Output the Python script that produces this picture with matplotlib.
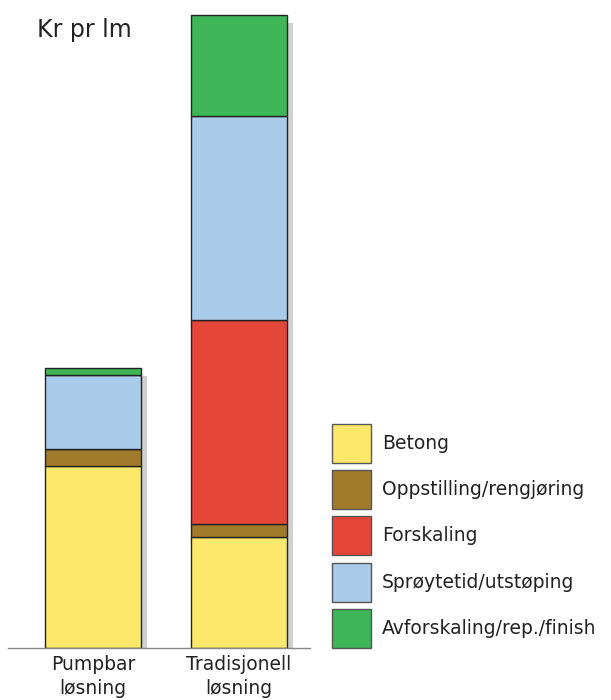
import matplotlib
matplotlib.use("Agg")
import matplotlib.pyplot as plt
from matplotlib.patches import Rectangle
import numpy as np

plt.rcParams['font.family'] = ['DejaVu Sans']

categories = ["Pumpbar\nløsning", "Tradisjonell\nløsning"]
series = ["Betong", "Oppstilling/rengjøring", "Forskaling",
          "Sprøytetid/utstøping", "Avforskaling/rep./finish"]
betong = [182, 111]
oppstilling = [17, 13]
forskaling = [0, 204]
sproyte = [74, 204]
avforskaling = [7, 101]
values = [betong, oppstilling, forskaling, sproyte, avforskaling]
colors = ["#FCE86A", "#A27A2C", "#E5463A", "#AACBEA", "#3EB556"]
title = "Kr pr lm"

W, H = 611, 700
fig = plt.figure(figsize=(W/100, H/100), dpi=100)
ax = fig.add_axes([8/W, (H-648)/H, (310-8)/W, 648/H])

x = np.arange(len(categories))
bw = 96/146
totals = np.sum(values, axis=0)
# shadow
ax.bar(x + 6/146, totals - 8, bottom=0, width=bw, color="#d0d0d0", zorder=1, linewidth=0)
bottom = np.zeros(len(categories))
for vals, col, name in zip(values, colors, series):
    v = np.array(vals, dtype=float)
    ax.bar(x, v, bottom=bottom, width=bw, color=col, edgecolor="#222222",
           linewidth=1.0, zorder=2, label=name)
    bottom += v

ax.set_xlim(-85/146, -85/146 + 302/146)
ax.set_ylim(0, 648)
for s in ["top", "right", "left"]:
    ax.spines[s].set_visible(False)
ax.spines["bottom"].set_color("#888888")
ax.spines["bottom"].set_linewidth(1.0)
ax.set_yticks([])
ax.set_xticks(x)
ax.set_xticklabels(categories, fontsize=13.5, color="#222222", linespacing=1.35)
ax.tick_params(axis="x", length=0, pad=5)

fig.text(37/W, 1 - 30/H, title, fontsize=17, color="#222222", va="center", ha="left")

# legend (manual, in figure pixel coordinates)
lax = fig.add_axes([0, 0, 1, 1], facecolor="none")
lax.set_xlim(0, W)
lax.set_ylim(H, 0)
lax.axis("off")
for i, (c, name) in enumerate(zip(colors, series)):
    top = 424 + i * 46.2
    lax.add_patch(Rectangle((332, top), 39, 39, facecolor=c, edgecolor="#555555", linewidth=1.0))
    lax.text(382, top + 19.5, name, fontsize=13.5, color="#222222", va="center", ha="left")

fig.savefig("out.png", dpi=100)
